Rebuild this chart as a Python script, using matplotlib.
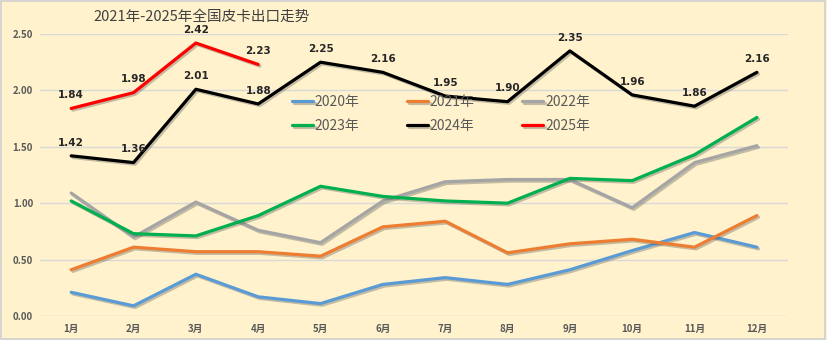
import matplotlib
matplotlib.use("Agg")
import matplotlib.pyplot as plt
import matplotlib.patheffects as pe

plt.rcParams['font.family'] = ['Noto Sans CJK SC', 'DejaVu Sans']

months = ["1月", "2月", "3月", "4月", "5月", "6月", "7月", "8月", "9月", "10月", "11月", "12月"]
y2020 = [0.21, 0.09, 0.37, 0.17, 0.11, 0.28, 0.34, 0.28, 0.41, 0.58, 0.74, 0.61]
y2021 = [0.41, 0.61, 0.57, 0.57, 0.53, 0.79, 0.84, 0.56, 0.64, 0.68, 0.61, 0.89]
y2022 = [1.09, 0.70, 1.01, 0.76, 0.65, 1.02, 1.19, 1.21, 1.21, 0.96, 1.36, 1.51]
y2023 = [1.02, 0.73, 0.71, 0.89, 1.15, 1.06, 1.02, 1.00, 1.22, 1.20, 1.43, 1.76]
y2024 = [1.42, 1.36, 2.01, 1.88, 2.25, 2.16, 1.95, 1.90, 2.35, 1.96, 1.86, 2.16]
y2025 = [1.84, 1.98, 2.42, 2.23]

series = [
    ("2020年", y2020, "#5B9BD5"),
    ("2021年", y2021, "#ED7D31"),
    ("2022年", y2022, "#A5A5A5"),
    ("2023年", y2023, "#00B050"),
    ("2024年", y2024, "#000000"),
    ("2025年", y2025, "#FF0000"),
]

bg = "#FFF2CC"
fig = plt.figure(figsize=(8.27, 3.40), dpi=100, facecolor=bg)
fig.patches.append(plt.Rectangle((0.001, 0.002), 0.997, 0.995, transform=fig.transFigure,
                                 fill=False, edgecolor="#D0D0D0", linewidth=1.2))
ax = fig.add_axes([0.0484, 0.0706, 0.9045, 0.8294])
ax.set_facecolor(bg)

shadow = [pe.SimpleLineShadow(offset=(1.2, -1.2), alpha=0.35, shadow_color="#555555"), pe.Normal()]

handles = {}
for name, vals, col in series:
    xs = list(range(1, len(vals) + 1))
    ln, = ax.plot(xs, vals, color=col, linewidth=2.3, solid_capstyle="round",
                  path_effects=shadow, label=name, zorder=3)
    handles[name] = ln

for vals in (y2024, y2025):
    for i, v in enumerate(vals):
        ax.annotate(f"{v:.2f}", (i + 1, v), xytext=(0, 9.5), textcoords="offset points",
                    ha="center", va="center", fontsize=7.5, fontweight="bold",
                    color="#262626", family="DejaVu Sans")

ax.set_xlim(0.5, 12.5)
ax.set_ylim(0, 2.5)
ax.set_yticks([0, 0.5, 1.0, 1.5, 2.0, 2.5])
ax.set_yticklabels([f"{t:.2f}" for t in [0, 0.5, 1.0, 1.5, 2.0, 2.5]])
ax.set_xticks(range(1, 13))
ax.set_xticklabels(months)
ax.tick_params(axis="both", length=0, labelsize=7, labelcolor="#595959")
ax.tick_params(axis="x", pad=6)
ax.tick_params(axis="y", pad=5)
for lab in ax.get_xticklabels() + ax.get_yticklabels():
    lab.set_fontweight("bold")
ax.grid(axis="y", color="#D9D9D9", linewidth=1)
ax.set_axisbelow(True)
for s in ax.spines.values():
    s.set_visible(False)

order = ["2020年", "2023年", "2021年", "2024年", "2022年", "2025年"]
leg = ax.legend([handles[n] for n in order], order, ncol=3, loc="center left",
                bbox_to_anchor=(292 / 827, 1 - 114 / 340), bbox_transform=fig.transFigure,
                frameon=False, fontsize=10, borderpad=0, borderaxespad=0,
                handlelength=1.5, handletextpad=0.15, columnspacing=3.4,
                labelspacing=0.75, labelcolor="#595959")

fig.text(0.113, 1 - 17 / 340, "2021年-2025年全国皮卡出口走势", fontsize=10.5, color="#404040",
         ha="left", va="center")

fig.savefig("out.png", dpi=100, facecolor=bg)
